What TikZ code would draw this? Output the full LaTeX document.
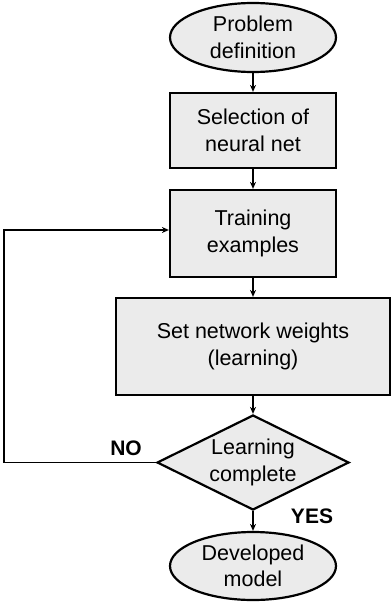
\documentclass[tikz,border=0pt]{standalone}
\usepackage{fontspec}
\setmainfont{Liberation Sans}
\usetikzlibrary{shapes.geometric,arrows.meta}
\definecolor{boxfill}{HTML}{EBEBEB}
\begin{document}
\begin{tikzpicture}[x=1pt,y=-1pt,
  base/.style={draw=black,line width=2.2pt,fill=boxfill,align=center,inner sep=0pt,
    font=\fontsize{21.5}{26.5}\selectfont},
  oval/.style={base,ellipse,minimum width=166pt,minimum height=69pt},
  rect/.style={base,rectangle},
  decide/.style={base,diamond,aspect=2,minimum width=192pt,minimum height=95pt},
  conn/.style={line width=1.8pt,-{Stealth[length=7pt,width=6pt]}},
  lbl/.style={font=\fontsize{21}{24}\selectfont\bfseries}]
\useasboundingbox (0,0) rectangle (391,602);
\node[oval] (start) at (253,37.5) {Problem\\definition};
\node[rect,minimum width=166pt,minimum height=75pt] (sel) at (253,130.5) {Selection of\\neural net};
\node[rect,minimum width=166pt,minimum height=87pt] (train) at (253,233.5) {Training\\examples};
\node[rect,minimum width=274pt,minimum height=97pt] (weights) at (253,346.5) {Set network weights\\(learning)};
\node[decide] (dec) at (253,462.5) {Learning\\complete};
\node[oval,minimum height=68pt] (final) at (253,566) {Developed\\model};
\coordinate (c1) at (4,462.5);
\coordinate (c2) at (4,230);
\draw[conn] (start) -- (sel);
\draw[conn] (sel) -- (train);
\draw[conn] (train) -- (weights);
\draw[conn] (weights) -- (dec);
\draw[conn] (dec) -- (final);
\draw[conn] (dec.west) -- (c1) -- (c2) -- (train.west |- c2);
\node[lbl] (no) at (126,448) {NO};
\node[lbl] (yes) at (312,516) {YES};
\end{tikzpicture}
\end{document}
